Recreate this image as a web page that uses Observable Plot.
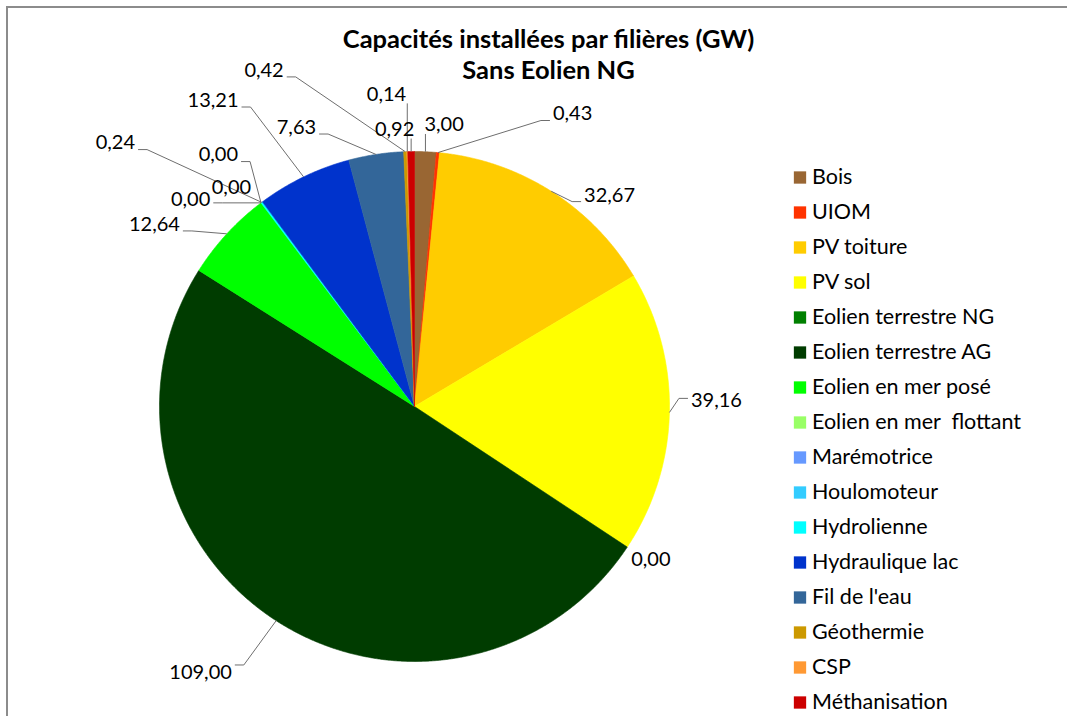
<!DOCTYPE html>
<html><head><meta charset="utf-8">
<script src="https://cdn.jsdelivr.net/npm/d3@7"></script>
<script src="https://cdn.jsdelivr.net/npm/@observablehq/plot@0.6"></script>
<style>
body{margin:0;background:#fff;}
#wrap{position:relative;width:1067px;height:716px;overflow:hidden;font-family:Lato,sans-serif;background:#fff;}
#wrap svg{position:absolute;}
#title{position:absolute;z-index:3;left:0;top:22.5px;width:1097px;text-align:center;font:bold 25.5px/31px Lato,sans-serif;color:#000;}
#frame{position:absolute;z-index:3;left:6px;top:6px;width:1100px;height:760px;border-left:2px solid #8c8c8c;border-top:2px solid #8c8c8c;pointer-events:none;}
</style></head><body>
<div id="wrap"><div id="title">Capacités installées par filières (GW)<br>Sans Eolien NG</div><div id="frame"></div></div>
<script>
// ---- data ----
const categories = ["Bois","UIOM","PV toiture","PV sol","Eolien terrestre NG","Eolien terrestre AG","Eolien en mer posé","Eolien en mer  flottant","Marémotrice","Houlomoteur","Hydrolienne","Hydraulique lac","Fil de l'eau","Géothermie","CSP","Méthanisation"];
const values = [3.00,0.43,32.67,39.16,0.00,109.00,12.64,0.00,0.00,0.00,0.24,13.21,7.63,0.42,0.14,0.92];
const colors = ["#996633","#FF3300","#FFCC00","#FFFF00","#008000","#003C00","#00FF00","#99FF66","#6699FF","#33CCFF","#00FFFF","#0033CC","#336699","#CC9900","#FF9933","#CC0000"];

// ---- layout (label positions in units of pie radius, y upward) ----
const labelX = [0.116,0.620,0.765,1.184,0.927,-0.839,-1.020,-0.878,-0.718,-0.769,-1.173,-0.790,-0.463,-0.590,-0.110,-0.078];
const labelY = [1.104,1.147,0.829,0.022,-0.602,-1.045,0.714,0.810,0.859,0.986,1.033,1.200,1.094,1.318,1.224,1.086];
const labelLeader = [true,true,true,true,false,true,true,true,false,true,true,true,true,true,true,true];
const labelAttachDy = [null,null,6.5,-2.5,null,null,null,null,null,null,null,null,null,null,null,null];

const W = 1067, H = 716, CX = 414, CY = 406, R = 255;

const arcs = d3.pie().sort(null).value(d => d)(values);
const mid = arcs.map(p => (p.startAngle + p.endAngle) / 2);

const slicePts = [];
arcs.forEach((p, i) => {
  const span = p.endAngle - p.startAngle;
  if (span <= 0) return;
  const n = Math.max(2, Math.ceil(span / (Math.PI / 720)));
  slicePts.push({cat: categories[i], x: 0, y: 0});
  for (let k = 0; k <= n; k++) {
    const a = p.startAngle + span * k / n;
    slicePts.push({cat: categories[i], x: Math.sin(a), y: Math.cos(a)});
  }
  slicePts.push({cat: categories[i], x: 0, y: 0});
});

const fmt = v => v.toFixed(2).replace(".", ",");
const ctx = document.createElement("canvas").getContext("2d");
ctx.font = "20px Lato";
const clamp = (v, a, b) => Math.max(a, Math.min(b, v));

const labels = categories.map((c, i) => ({cat: c, x: labelX[i], y: labelY[i], text: fmt(values[i])}));
const leaderPts = [];
categories.forEach((c, i) => {
  if (!labelLeader[i]) return;
  const ex = Math.sin(mid[i]), ey = Math.cos(mid[i]);
  const w = ctx.measureText(fmt(values[i])).width / R;
  const lx = labelX[i], ly = labelY[i];
  const gap = 3 / R, stub = 9 / R;
  const left = lx - w / 2 - gap, right = lx + w / 2 + gap;
  const top = ly + 8 / R, bottom = ly - 6.5 / R;
  const ay = labelAttachDy[i] != null ? ly - labelAttachDy[i] / R : clamp(ey, bottom, top);
  let pts;
  if (ex > right) pts = [[right, ay], [right + stub, ay], [ex, ey]];
  else if (ex < left) pts = [[left, ay], [left - stub, ay], [ex, ey]];
  else pts = [[ex, ey < ly ? ly - 9 / R : ly + 10 / R], [ex, ey]];
  pts.forEach(([x, y]) => leaderPts.push({id: i, x, y}));
});

const chart = Plot.plot({
  width: W, height: H, margin: 0,
  x: {domain: [-CX / R, (W - CX) / R], range: [0, W], axis: null},
  y: {domain: [CY / R, (CY - H) / R], range: [0, H], axis: null},
  color: {domain: categories, range: colors},
  style: {background: "none", fontFamily: "Lato, sans-serif"},
  marks: [
    Plot.line(slicePts, {x: "x", y: "y", z: "cat", fill: "cat", stroke: "cat", strokeWidth: 0.6, curve: "linear"}),
    Plot.line(leaderPts, {x: "x", y: "y", z: "id", stroke: "#6e6e6e", strokeWidth: 1, curve: "linear", strokeLinecap: "butt"}),
    Plot.text(labels, {x: "x", y: "y", text: "text", fontSize: 20, fill: "#000"})
  ]
});
chart.style.left = "0px"; chart.style.top = "0px";

const legend = Plot.plot({
  width: 287, height: 566, margin: 0,
  x: {domain: [0, 287], range: [0, 287], axis: null},
  y: {type: "point", domain: categories, range: [25, 553], padding: 0, axis: null},
  color: {domain: categories, range: colors},
  style: {background: "none", fontFamily: "Lato, sans-serif"},
  marks: [
    Plot.dot(categories, {x: () => 19.5, y: d => d, symbol: "square", r: 6.94, fill: d => d}),
    Plot.text(categories, {x: () => 31.5, y: d => d, text: d => d, textAnchor: "start", fontSize: 21.5, fill: "#000"})
  ]
});
legend.style.left = "780px"; legend.style.top = "150px";

const wrap = document.getElementById("wrap");
wrap.appendChild(chart);
wrap.appendChild(legend);
</script>
</body></html>
